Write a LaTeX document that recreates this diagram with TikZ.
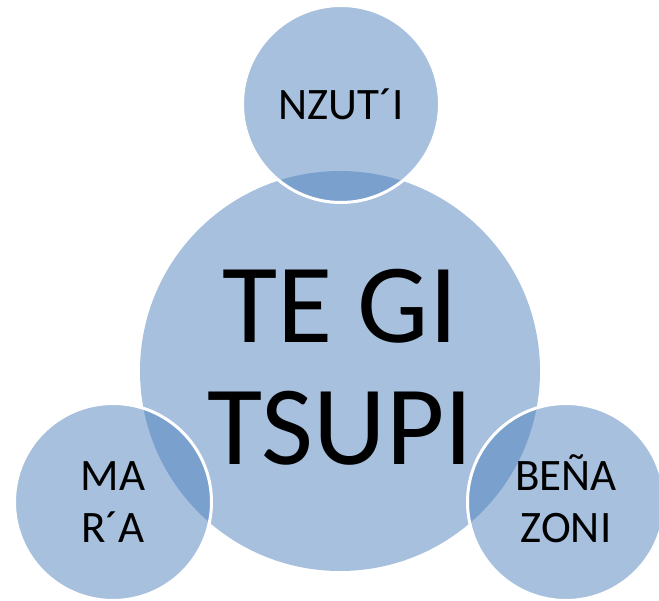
\documentclass[tikz,border=0pt]{standalone}
\usepackage{fontspec}
\setmainfont{Carlito}
\definecolor{accent}{HTML}{4F81BD}
\begin{document}
\begin{tikzpicture}[x=1pt,y=1pt,
  bubble/.style={circle, fill=accent, fill opacity=0.5, text opacity=1, inner sep=0pt, align=center},
  bigbubble/.style={bubble, minimum size=400pt, font=\fontsize{113}{122}\selectfont},
  smallbubble/.style={bubble, draw=white, line width=3pt, draw opacity=1, minimum size=197pt, font=\fontsize{45}{52}\selectfont}]
\useasboundingbox (0,0) rectangle (659,601);
\node[bigbubble] (core) at (340,230) {TE GI\\TSUPI\rule[-8pt]{0pt}{8pt}};
\node[smallbubble] (top) at (341,497) {NZUT´I};
\node[smallbubble] (left) at (113,99) {MA\\R´A};
\node[smallbubble] (right) at (566,99) {BE\smash{Ñ}A\\ZONI};
\end{tikzpicture}
\end{document}
